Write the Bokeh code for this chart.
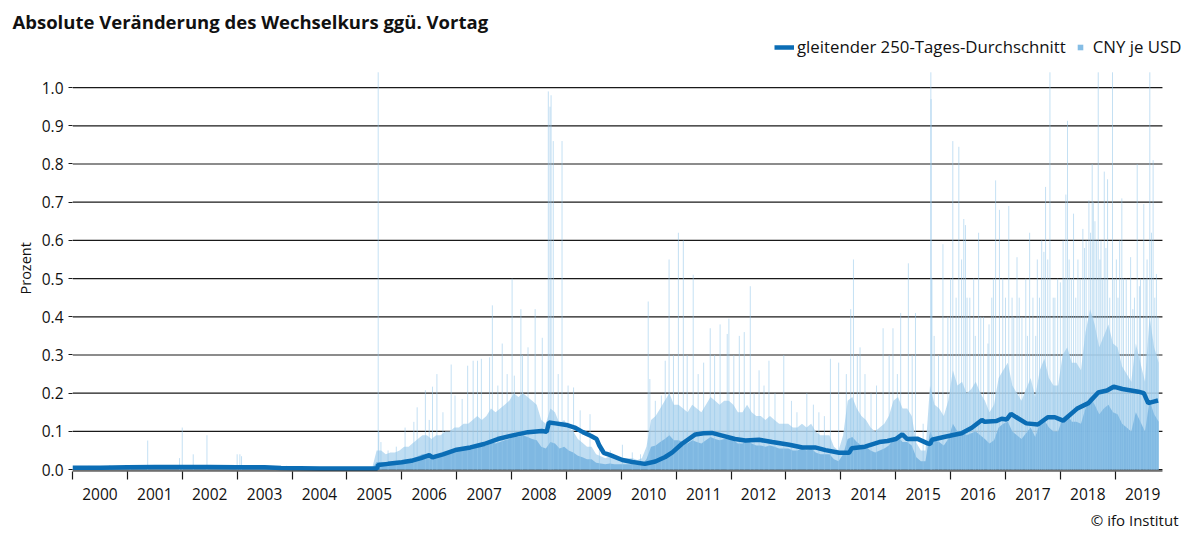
from bokeh.plotting import figure
from bokeh.models import (FixedTicker, PrintfTickFormatter, Legend, LegendItem,
                          Title, Range1d)
from bokeh.embed import file_html
from bokeh.resources import INLINE

FONT = "Open Sans"

# ---------------- data ----------------
year_labels = [str(y) for y in range(2000, 2020)]

# monthly upper level of the dense bar cluster, Jan 2000 .. Oct 2019 (percent)
band_top = [
    0.006, 0.006, 0.007, 0.006, 0.006, 0.007, 0.006, 0.006, 0.007, 0.008, 0.007, 0.007,  # 2000
    0.008, 0.008, 0.009, 0.008, 0.010, 0.009, 0.008, 0.008, 0.009, 0.008, 0.008, 0.009,  # 2001
    0.009, 0.008, 0.009, 0.009, 0.008, 0.009, 0.008, 0.008, 0.009, 0.008, 0.008, 0.008,  # 2002
    0.008, 0.008, 0.007, 0.007, 0.006, 0.006, 0.006, 0.006, 0.005, 0.005, 0.005, 0.004,  # 2003
    0.004, 0.004, 0.003, 0.003, 0.004, 0.003, 0.003, 0.003, 0.003, 0.003, 0.003, 0.003,  # 2004
    0.003, 0.003, 0.003, 0.003, 0.003, 0.003, 0.050, 0.050, 0.040, 0.045, 0.045, 0.050,  # 2005
    0.060, 0.060, 0.070, 0.080, 0.090, 0.090, 0.080, 0.090, 0.090, 0.100, 0.100, 0.110,  # 2006
    0.110, 0.120, 0.120, 0.130, 0.140, 0.130, 0.140, 0.160, 0.150, 0.160, 0.170, 0.180,  # 2007
    0.200, 0.190, 0.200, 0.190, 0.180, 0.170, 0.130, 0.120, 0.160, 0.150, 0.120, 0.130,  # 2008
    0.110, 0.100, 0.080, 0.070, 0.060, 0.060, 0.040, 0.035, 0.030, 0.035, 0.030, 0.030,  # 2009
    0.030, 0.030, 0.030, 0.025, 0.030, 0.060, 0.130, 0.140, 0.160, 0.180, 0.200, 0.170,  # 2010
    0.170, 0.160, 0.150, 0.170, 0.160, 0.150, 0.170, 0.190, 0.180, 0.170, 0.180, 0.180,  # 2011
    0.170, 0.150, 0.150, 0.170, 0.150, 0.140, 0.140, 0.130, 0.140, 0.130, 0.120, 0.120,  # 2012
    0.120, 0.110, 0.110, 0.120, 0.110, 0.120, 0.100, 0.090, 0.090, 0.090, 0.060, 0.050,  # 2013
    0.090, 0.180, 0.190, 0.160, 0.140, 0.130, 0.110, 0.100, 0.110, 0.120, 0.140, 0.180,  # 2014
    0.190, 0.160, 0.160, 0.140, 0.070, 0.050, 0.050, 0.220, 0.170, 0.160, 0.140, 0.180,  # 2015
    0.260, 0.220, 0.230, 0.200, 0.210, 0.230, 0.200, 0.180, 0.150, 0.170, 0.240, 0.260,  # 2016
    0.280, 0.220, 0.200, 0.180, 0.210, 0.240, 0.190, 0.260, 0.290, 0.240, 0.220, 0.220,  # 2017
    0.300, 0.320, 0.280, 0.280, 0.260, 0.360, 0.420, 0.380, 0.320, 0.350, 0.380, 0.330,  # 2018
    0.320, 0.270, 0.250, 0.230, 0.330, 0.280, 0.230, 0.400, 0.320, 0.280,                # 2019
]

# monthly level of the solid core of the bar cluster
band_core = [
    0.003, 0.003, 0.004, 0.003, 0.003, 0.004, 0.003, 0.003, 0.004, 0.004, 0.004, 0.004,  # 2000
    0.004, 0.004, 0.005, 0.004, 0.005, 0.005, 0.004, 0.004, 0.005, 0.004, 0.004, 0.005,  # 2001
    0.005, 0.004, 0.005, 0.005, 0.004, 0.005, 0.004, 0.004, 0.005, 0.004, 0.004, 0.004,  # 2002
    0.004, 0.004, 0.004, 0.004, 0.003, 0.003, 0.003, 0.003, 0.003, 0.003, 0.003, 0.002,  # 2003
    0.002, 0.002, 0.002, 0.002, 0.002, 0.002, 0.002, 0.002, 0.002, 0.002, 0.002, 0.002,  # 2004
    0.002, 0.002, 0.002, 0.002, 0.002, 0.002, 0.020, 0.020, 0.018, 0.020, 0.020, 0.022,  # 2005
    0.026, 0.027, 0.030, 0.035, 0.040, 0.040, 0.036, 0.040, 0.040, 0.045, 0.045, 0.050,  # 2006
    0.050, 0.055, 0.055, 0.060, 0.063, 0.060, 0.063, 0.072, 0.068, 0.072, 0.077, 0.080,  # 2007
    0.090, 0.085, 0.090, 0.085, 0.080, 0.077, 0.060, 0.055, 0.072, 0.068, 0.055, 0.060,  # 2008
    0.050, 0.045, 0.036, 0.032, 0.027, 0.027, 0.018, 0.016, 0.014, 0.016, 0.014, 0.014,  # 2009
    0.014, 0.014, 0.014, 0.012, 0.014, 0.027, 0.060, 0.063, 0.072, 0.080, 0.090, 0.077,  # 2010
    0.077, 0.072, 0.068, 0.077, 0.072, 0.068, 0.077, 0.085, 0.080, 0.077, 0.080, 0.080,  # 2011
    0.077, 0.068, 0.068, 0.077, 0.068, 0.063, 0.063, 0.060, 0.063, 0.060, 0.055, 0.055,  # 2012
    0.055, 0.050, 0.050, 0.055, 0.050, 0.055, 0.045, 0.040, 0.040, 0.040, 0.027, 0.022,  # 2013
    0.040, 0.080, 0.085, 0.072, 0.063, 0.060, 0.050, 0.045, 0.050, 0.055, 0.063, 0.080,  # 2014
    0.085, 0.072, 0.072, 0.063, 0.032, 0.022, 0.022, 0.100, 0.077, 0.072, 0.063, 0.080,  # 2015
    0.120, 0.100, 0.100, 0.090, 0.095, 0.100, 0.090, 0.080, 0.068, 0.077, 0.110, 0.120,  # 2016
    0.125, 0.100, 0.090, 0.080, 0.095, 0.110, 0.085, 0.120, 0.130, 0.110, 0.100, 0.100,  # 2017
    0.135, 0.145, 0.125, 0.125, 0.120, 0.160, 0.190, 0.170, 0.145, 0.160, 0.170, 0.150,  # 2018
    0.145, 0.120, 0.110, 0.100, 0.150, 0.125, 0.100, 0.180, 0.145, 0.125,                # 2019
]

# individual tall daily changes (decimal year, percent; 1.04 = reaches the top edge)
spike_dates = [
    2000.30, 2000.68, 2001.05, 2001.37, 2001.95, 2002.00, 2002.20, 2002.45, 2003.00, 2003.05,
    2003.08, 2003.90, 2004.50,
    2005.57, 2005.58, 2005.62, 2005.75, 2005.90,
    2006.06, 2006.22, 2006.28, 2006.43, 2006.50, 2006.56, 2006.64, 2006.75, 2006.90, 2006.97,
    2007.10, 2007.20, 2007.30, 2007.38, 2007.45, 2007.60, 2007.65, 2007.75, 2007.83, 2007.92,
    2008.01, 2008.05, 2008.17, 2008.20, 2008.30, 2008.43, 2008.56, 2008.67, 2008.70, 2008.72,
    2008.76, 2008.85, 2008.92, 2009.03, 2009.13, 2009.25, 2009.43, 2009.60, 2009.80,
    2010.02, 2010.20, 2010.35, 2010.49, 2010.52, 2010.62, 2010.73, 2010.80, 2010.87, 2010.95,
    2011.04, 2011.13, 2011.20, 2011.31, 2011.40, 2011.50, 2011.62, 2011.70, 2011.80, 2011.93,
    2011.96, 2012.05, 2012.15, 2012.24, 2012.35, 2012.42, 2012.51, 2012.60, 2012.69, 2012.80,
    2012.96, 2013.10, 2013.20, 2013.38, 2013.50, 2013.60, 2013.70, 2013.81, 2013.96,
    2014.10, 2014.18, 2014.23, 2014.30, 2014.35, 2014.44, 2014.55, 2014.65, 2014.77, 2014.88,
    2014.95, 2015.03, 2015.09, 2015.23, 2015.30, 2015.36, 2015.50, 2015.64, 2015.645, 2015.66,
    2015.70, 2015.78, 2015.86, 2015.95, 2016.04, 2016.10, 2016.15, 2016.24, 2016.27, 2016.35,
    2016.42, 2016.51, 2016.60, 2016.68, 2016.75, 2016.82, 2016.89, 2016.95, 2017.06, 2017.12,
    2017.21, 2017.30, 2017.37, 2017.44, 2017.55, 2017.62, 2017.70, 2017.73, 2017.81, 2017.87,
    2017.95, 2018.00, 2018.05, 2018.10, 2018.13, 2018.20, 2018.24, 2018.32, 2018.41, 2018.47,
    2018.52, 2018.58, 2018.63, 2018.69, 2018.74, 2018.80, 2018.86, 2018.95, 2019.02, 2019.08,
    2019.12, 2019.20, 2019.28, 2019.35, 2019.40, 2019.46, 2019.52, 2019.58, 2019.63, 2019.69,
    2019.75, 2019.78,
    2016.00, 2016.20, 2016.30, 2016.45, 2016.55, 2016.70, 2016.78, 2017.00, 2017.15, 2017.25,
    2017.40, 2017.50, 2017.58, 2017.66, 2017.77, 2017.90, 2018.07, 2018.16, 2018.28, 2018.36,
    2018.44, 2018.55, 2018.60, 2018.66, 2018.72, 2018.77, 2018.83, 2018.90, 2018.98, 2019.05,
    2019.15, 2019.24, 2019.32, 2019.44, 2019.56, 2019.66, 2019.72,
]
spike_values = [
    0.010, 0.012, 0.012, 0.076, 0.030, 0.110, 0.040, 0.090, 0.040, 0.040,
    0.035, 0.010, 0.006,
    1.040, 0.100, 0.072, 0.050, 0.060,
    0.110, 0.125, 0.163, 0.208, 0.130, 0.217, 0.250, 0.150, 0.275, 0.194,
    0.185, 0.272, 0.285, 0.285, 0.290, 0.294, 0.430, 0.220, 0.330, 0.250,
    0.500, 0.246, 0.420, 0.300, 0.320, 0.420, 0.345, 0.990, 0.950, 0.980,
    0.860, 0.250, 0.860, 0.220, 0.215, 0.155, 0.145, 0.076, 0.050,
    0.065, 0.045, 0.040, 0.440, 0.237, 0.180, 0.194, 0.285, 0.550, 0.300,
    0.620, 0.600, 0.300, 0.510, 0.250, 0.280, 0.370, 0.300, 0.380, 0.355,
    0.395, 0.300, 0.350, 0.360, 0.480, 0.200, 0.260, 0.220, 0.285, 0.200,
    0.300, 0.180, 0.150, 0.200, 0.170, 0.150, 0.140, 0.290, 0.280,
    0.250, 0.420, 0.550, 0.300, 0.320, 0.250, 0.200, 0.220, 0.370, 0.300,
    0.370, 0.250, 0.410, 0.540, 0.300, 0.410, 0.120, 1.040, 0.970, 0.500,
    0.350, 0.300, 0.590, 0.400, 0.860, 0.450, 0.845, 0.656, 0.640, 0.450,
    0.500, 0.620, 0.400, 0.330, 0.450, 0.757, 0.680, 0.500, 0.690, 0.450,
    0.556, 0.400, 0.500, 0.620, 0.350, 0.450, 0.570, 0.740, 1.040, 0.450,
    0.500, 0.490, 0.600, 0.720, 0.913, 0.500, 0.670, 0.550, 0.630, 0.600,
    0.705, 0.800, 0.650, 1.040, 0.600, 0.780, 0.760, 1.040, 0.550, 0.600,
    0.710, 0.500, 0.556, 0.450, 0.800, 0.500, 0.695, 0.550, 1.040, 0.810,
    0.512, 0.400,
    0.500, 0.550, 0.450, 0.350, 0.400, 0.380, 0.500, 0.450, 0.400, 0.450,
    0.350, 0.450, 0.550, 0.600, 0.550, 0.450, 0.500, 0.550, 0.450, 0.500,
    0.580, 0.620, 0.700, 0.600, 0.550, 0.500, 0.580, 0.450, 0.500, 0.450,
    0.500, 0.400, 0.420, 0.480, 0.500, 0.620, 0.450,
]

# 250-day moving average (decimal year, percent)
ma_dates = [
    2000.00, 2000.50, 2001.00, 2001.50, 2002.00, 2002.50, 2003.00, 2003.50, 2003.80, 2004.50,
    2005.00, 2005.55, 2005.57, 2005.75, 2006.00, 2006.20, 2006.35, 2006.50, 2006.56, 2006.75,
    2007.00, 2007.25, 2007.50, 2007.75, 2008.00, 2008.30, 2008.55, 2008.64, 2008.68, 2008.80,
    2009.00, 2009.15, 2009.30, 2009.45, 2009.55, 2009.60, 2009.68, 2009.80, 2010.02, 2010.20,
    2010.43, 2010.62, 2010.80, 2010.93, 2011.10, 2011.35, 2011.50, 2011.65, 2011.84, 2012.07,
    2012.26, 2012.51, 2012.75, 2013.06, 2013.30, 2013.53, 2013.72, 2013.97, 2014.15, 2014.20,
    2014.44, 2014.70, 2014.85, 2015.00, 2015.12, 2015.21, 2015.39, 2015.59, 2015.63, 2015.66,
    2015.90, 2016.20, 2016.38, 2016.57, 2016.62, 2016.83, 2016.93, 2017.02, 2017.10, 2017.22,
    2017.38, 2017.59, 2017.77, 2017.90, 2018.05, 2018.30, 2018.51, 2018.69, 2018.85, 2018.97,
    2019.13, 2019.42, 2019.52, 2019.60, 2019.70, 2019.78,
]
ma_values = [
    0.005, 0.005, 0.006, 0.007, 0.007, 0.007, 0.006, 0.006, 0.004, 0.003,
    0.003, 0.003, 0.012, 0.015, 0.019, 0.024, 0.030, 0.038, 0.032, 0.040,
    0.052, 0.058, 0.067, 0.080, 0.089, 0.098, 0.101, 0.099, 0.123, 0.121,
    0.117, 0.110, 0.098, 0.088, 0.080, 0.063, 0.044, 0.038, 0.025, 0.020,
    0.015, 0.021, 0.033, 0.045, 0.067, 0.092, 0.095, 0.096, 0.089, 0.080,
    0.076, 0.078, 0.072, 0.065, 0.058, 0.058, 0.051, 0.044, 0.044, 0.056,
    0.060, 0.072, 0.075, 0.080, 0.092, 0.080, 0.081, 0.068, 0.067, 0.078,
    0.086, 0.095, 0.109, 0.130, 0.125, 0.127, 0.133, 0.131, 0.146, 0.135,
    0.121, 0.118, 0.137, 0.137, 0.128, 0.159, 0.174, 0.202, 0.207, 0.217,
    0.211, 0.204, 0.200, 0.174, 0.178, 0.181,
]

y_ticks = [0.0, 0.1, 0.2, 0.3, 0.4, 0.5, 0.6, 0.7, 0.8, 0.9, 1.0]

# ---------------- figure ----------------
month_x = [2000 + (i + 0.5) / 12 for i in range(len(band_top))]
year_starts = [int(s) for s in year_labels]
year_mids = [y + 0.5 for y in year_starts]
X0, X1 = 2000.0, 2019.86          # extent of the plotting area (grid and axis line)
Y0 = -0.005

# frame runs to the right page edge so that the legend is not clipped;
# grid and axis line are drawn only over the data extent
p = figure(width=1185, height=535, output_backend="svg", toolbar_location=None,
           x_range=Range1d(X0, 2020.28), y_range=Range1d(Y0, 1.139),
           min_border_left=72, min_border_right=0, min_border_top=34,
           min_border_bottom=64)
p.outline_line_color = None
p.xgrid.grid_line_color = None
p.ygrid.grid_line_color = None

p.segment(x0=[X0] * len(y_ticks), y0=y_ticks, x1=[X1] * len(y_ticks), y1=y_ticks,
          line_color="#1a1a1a", line_width=1.2)
p.varea(x=month_x, y1=0, y2=band_top, fill_color="#b4d7f0", fill_alpha=0.85)
p.varea(x=month_x, y1=0, y2=band_core, fill_color="#78b4e0", fill_alpha=0.9)
p.segment(x0=spike_dates, y0=0, x1=spike_dates, y1=spike_values,
          line_color="#93c6ea", line_width=1, line_alpha=0.55)
ma = p.line(ma_dates, ma_values, line_color="#0b6db5", line_width=4.5)
sq = p.scatter(x=[2000.0], y=[-1.0], marker="square", size=10, fill_color="#85bde5",
               line_color=None)
# x axis line over the data extent
p.segment(x0=[X0], y0=[Y0], x1=[X1], y1=[Y0], line_color="#1a1a1a", line_width=2)

# axes
p.yaxis.ticker = FixedTicker(ticks=y_ticks)
p.yaxis.formatter = PrintfTickFormatter(format="%.1f")
p.yaxis.axis_line_color = None
p.yaxis.major_tick_out = 4
p.yaxis.major_tick_in = 0
p.yaxis.major_tick_line_color = "#1a1a1a"
p.yaxis.minor_tick_line_color = None
p.yaxis.major_label_text_font = FONT
p.yaxis.major_label_text_font_size = "15.5px"
p.yaxis.major_label_text_color = "#111111"
p.yaxis.major_label_standoff = 5

p.xaxis.ticker = FixedTicker(ticks=year_mids, minor_ticks=year_starts)
p.xaxis.major_label_overrides = {m: lab for m, lab in zip(year_mids, year_labels)}
p.xaxis.major_tick_line_color = None
p.xaxis.major_tick_out = 0
p.xaxis.major_tick_in = 0
p.xaxis.minor_tick_out = 8
p.xaxis.minor_tick_in = 0
p.xaxis.minor_tick_line_color = "#1a1a1a"
p.xaxis.minor_tick_line_width = 1.2
p.xaxis.axis_line_color = None
p.xaxis.major_label_text_font = FONT
p.xaxis.major_label_text_font_size = "15.5px"
p.xaxis.major_label_text_color = "#111111"
p.xaxis.major_label_standoff = 8

# y axis title, placed level with the lower part of the scale as in the original
p.add_layout(Title(text="Prozent", align="left", offset=177, standoff=8,
                   text_font=FONT, text_font_size="14.5px", text_font_style="normal",
                   text_color="#111111"), "left")

# legend (inside the frame, above the 1.0 line, right-aligned to the page edge)
legend = Legend(items=[LegendItem(label="gleitender 250-Tages-Durchschnitt", renderers=[ma]),
                       LegendItem(label="CNY je USD", renderers=[sq])],
                orientation="horizontal", location=(702, 413),
                label_text_font=FONT, label_text_font_size="16.8px",
                label_text_color="#111111", glyph_width=20, glyph_height=14,
                label_standoff=3, spacing=4, padding=0, margin=0,
                border_line_color=None, background_fill_alpha=0)
p.add_layout(legend)

# title and footer
p.title.text = "Absolute Veränderung des Wechselkurs ggü. Vortag"
p.title.align = "left"
p.title.offset = -60
p.title.standoff = 1
p.title.text_font = FONT
p.title.text_font_size = "18.5px"
p.title.text_font_style = "bold"
p.title.text_color = "#111111"

p.add_layout(Title(text="© ifo Institut", align="right", offset=7, standoff=11,
                   text_font=FONT, text_font_size="15px", text_font_style="normal",
                   text_color="#111111"), "below")

open("out.html", "w").write(file_html(p, INLINE))
